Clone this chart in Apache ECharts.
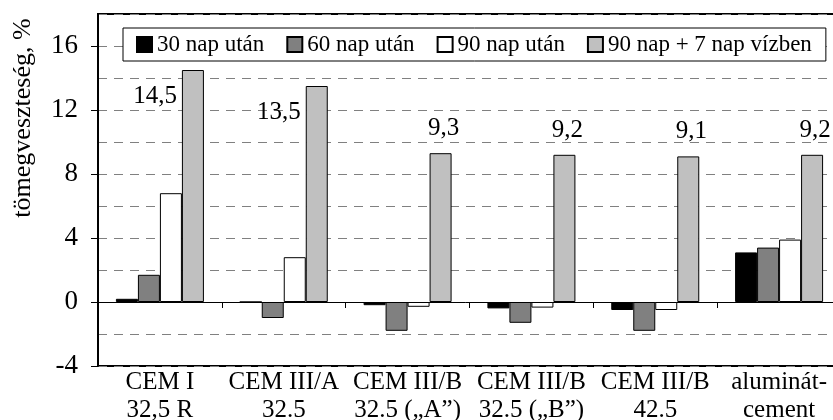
<!DOCTYPE html>
<html>
<head>
<meta charset="utf-8">
<script src="https://cdn.jsdelivr.net/npm/echarts@6/dist/echarts.min.js"></script>
<style>
  html, body { margin: 0; padding: 0; background: #fff; }
  #chart { width: 833px; height: 420px; }
</style>
</head>
<body>
<div id="chart"></div>
<script>
// Cement types on the category axis
const categories = [
  'CEM I\n32,5 R',
  'CEM III/A\n32.5',
  'CEM III/B\n32.5 („A”)',
  'CEM III/B\n32.5 („B”)',
  'CEM III/B\n42.5',
  'aluminát-\ncement'
];

// Mass loss (%) after each storage period
const seriesNames = ['30 nap után', '60 nap után', '90 nap után', '90 nap + 7 nap vízben'];
const after30 = [0.2, 0.0, -0.2, -0.4, -0.5, 3.1];
const after60 = [1.7, -1.0, -1.8, -1.3, -1.8, 3.4];
const after90 = [6.8, 2.8, -0.3, -0.35, -0.5, 3.9];
const after90plus7 = [14.5, 13.5, 9.3, 9.2, 9.1, 9.2];

// Value axis: labelled ticks, and the range shared by both value axes
const yTickLabels = [-4, 0, 4, 8, 12, 16];
const yMin = -4;
const yMax = 18;

const FONT = '"Liberation Serif", "Times New Roman", serif';
const colors = ['#000000', '#808080', '#ffffff', '#c0c0c0'];
const seriesData = [after30, after60, after90, after90plus7];

const fmt = v => String(v).replace('.', ',');

// The tall bars of the first two groups carry their value label on the left side
const labelOnLeft = new Set([0, 1]);

const series = seriesData.map((arr, si) => {
  const s = {
    name: seriesNames[si],
    type: 'bar',
    yAxisIndex: 1,
    barWidth: 22,
    barGap: '0%',
    itemStyle: { color: colors[si], borderColor: '#000', borderWidth: 1 },
    emphasis: { disabled: true },
    data: arr.map((v, i) => {
      if (si !== 3) return v;
      const lbl = labelOnLeft.has(i)
        ? { show: true, position: [-5, 26], align: 'right', verticalAlign: 'middle' }
        : { show: true, position: 'top', distance: 12, offset: [3, 0] };
      return { value: v, label: lbl };
    })
  };
  if (si === 3) {
    s.label = {
      show: false,
      formatter: p => fmt(p.value),
      color: '#000',
      fontFamily: FONT,
      fontSize: 25
    };
  }
  return s;
});

const chart = echarts.init(document.getElementById('chart'), null, { renderer: 'canvas' });

chart.setOption({
  animation: false,
  backgroundColor: '#fff',
  grid: {
    left: 98, top: 14, width: 743, height: 352,
    outerBoundsMode: 'none',
    containLabel: false,
    show: true, borderColor: '#000', borderWidth: 2, backgroundColor: 'transparent'
  },
  legend: {
    left: 123, top: 28,
    padding: [5, 14, 5, 13],
    itemWidth: 15, itemHeight: 15, itemGap: 22,
    backgroundColor: '#fff',
    borderColor: '#000', borderWidth: 1,
    icon: 'rect',
    selectedMode: false,
    textStyle: { fontFamily: FONT, fontSize: 23, color: '#000' },
    data: seriesNames
  },
  xAxis: [
    {
      type: 'category',
      data: categories,
      position: 'bottom',
      axisLine: { show: false, onZero: false },
      axisTick: { show: false },
      splitLine: { show: false },
      axisLabel: {
        margin: 2,
        color: '#000',
        fontFamily: FONT,
        fontSize: 25,
        lineHeight: 28,
        interval: 0
      }
    },
    {
      // zero line with boundary ticks hanging below it
      type: 'category',
      data: categories,
      position: 'top',
      axisLine: { show: true, onZero: true, lineStyle: { color: '#000', width: 1 } },
      axisTick: { show: true, inside: true, length: 6, lineStyle: { color: '#000', width: 1 } },
      axisLabel: { show: false },
      splitLine: { show: false }
    }
  ],
  yAxis: [
    {
      // dashed gridlines every 2 %
      type: 'value',
      position: 'right',
      min: yMin,
      max: yMax,
      interval: 2,
      axisLine: { show: false },
      axisTick: { show: false },
      axisLabel: { show: false },
      splitLine: {
        show: true,
        lineStyle: { color: '#808080', width: 1, type: [9, 7] }
      }
    },
    {
      // labelled axis on the left
      type: 'value',
      position: 'left',
      min: yMin,
      max: yMax,
      interval: 2,
      axisLine: { show: true, onZero: false, lineStyle: { color: '#000', width: 2 } },
      axisTick: {
        show: true, length: 7, customValues: yTickLabels,
        lineStyle: { color: '#000', width: 1 }
      },
      axisLabel: {
        customValues: yTickLabels,
        margin: 20,
        color: '#000',
        fontFamily: FONT,
        fontSize: 27
      },
      splitLine: { show: false }
    }
  ],
  graphic: [
    {
      type: 'text',
      x: 23,
      y: 118,
      rotation: Math.PI / 2,
      style: {
        text: 'tömegveszteség, %',
        fontFamily: FONT,
        fontSize: 26,
        fill: '#000',
        align: 'center',
        verticalAlign: 'middle'
      }
    }
  ],
  series: series
});
</script>
</body>
</html>
